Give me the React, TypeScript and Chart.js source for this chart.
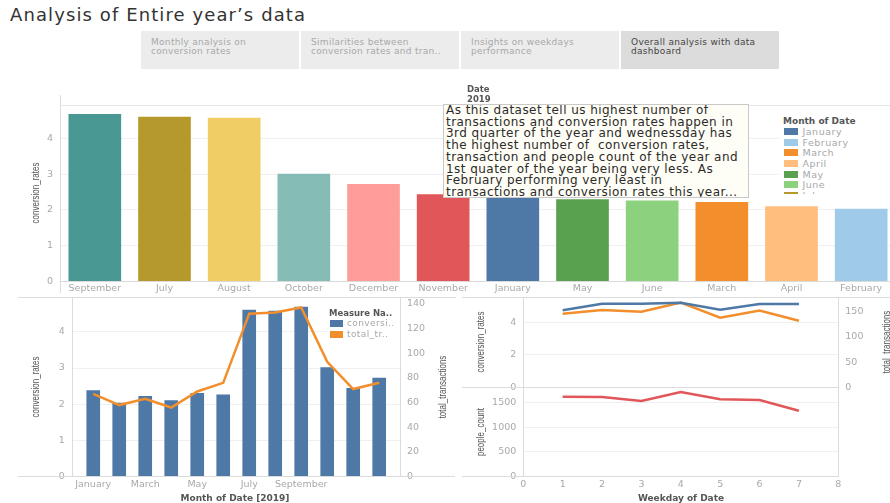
import React, { useEffect, useRef } from "react";
import { Chart, registerables } from "chart.js";

Chart.register(...registerables);

// ---------- data ----------
const months = [
  "January", "February", "March", "April", "May", "June",
  "July", "August", "September", "October", "November", "December",
];
const monthColors = [
  "#4e79a7", "#a0cbe8", "#f28e2b", "#ffbe7d", "#59a14f", "#8cd17d",
  "#b6992d", "#f1ce63", "#499894", "#86bcb6", "#e15759", "#ff9d9a",
];
const monthlyConversion = [2.38, 2.03, 2.22, 2.1, 2.3, 2.26, 4.6, 4.57, 4.68, 3.01, 2.44, 2.72];
const monthlyTransactions = [67, 58, 63, 56, 69, 76, 132, 133, 137, 93, 71, 76];
const monthTickIndices = [0, 2, 4, 6, 8];

const weekdays = [1, 2, 3, 4, 5, 6, 7];
const weekdayConversion = [4.73, 5.14, 5.14, 5.2, 4.77, 5.12, 5.12];
const weekdayTransactions = [146, 153, 150, 168, 138, 152, 132];
const weekdayPeople = [1613, 1607, 1526, 1709, 1561, 1547, 1330];

// tick values
const conversionTicks = [0, 1, 2, 3, 4];
const monthlyTransactionTicks = [0, 20, 40, 60, 80, 100, 120, 140];
const weekdayConversionTicks = [0, 2, 4];
const weekdayTransactionTicks = [0, 50, 100, 150];
const peopleTicks = [0, 500, 1000, 1500];
const weekdayAxisTicks = [0, 1, 2, 3, 4, 5, 6, 7, 8];

const tabs = [
  ["Monthly analysis on", "conversion rates"],
  ["Similarities between", "conversion rates and tran.."],
  ["Insights on weekdays", "performance"],
  ["Overall analysis  with data", "dashboard"],
];
const noteLines = [
  "As this dataset tell us highest number of",
  "transactions and conversion rates happen in",
  "3rd quarter of the year and wednessday has",
  "the highest number of  conversion rates,",
  "transaction and people count of the year and",
  "1st quater of the year being very less. As",
  "February performing very least in",
  "transactions and conversion rates this year...",
];

// ---------- styles ----------
const FONT = "DejaVu Sans";
const TICK_FONT = { family: FONT, size: 9.5 };
const TICK_COLOR = "#a9a9a9";
const GRID_COLOR = "#f0f0f0";
const LINE_COLOR = "#dcdcdc";
const TITLE_FONT = '"Liberation Sans", sans-serif';

function fix(w: number | null, h: number | null) {
  return (s: any) => {
    if (w !== null) s.width = w;
    if (h !== null) s.height = h;
    s.paddingLeft = 0;
    s.paddingRight = 0;
    s.paddingTop = 0;
    s.paddingBottom = 0;
  };
}
function tickSet(values: number[]) {
  return (s: any) => {
    s.ticks = values.map((v) => ({ value: v }));
  };
}
const plainNum = (v: any) => String(v);
const baseOpts = {
  responsive: false,
  animation: false as const,
  devicePixelRatio: 1,
  events: [] as any[],
  plugins: { legend: { display: false }, tooltip: { enabled: false } },
};
const gridNoZero = {
  drawTicks: false,
  color: (c: any) => (c.tick && c.tick.value === 0 ? "rgba(0,0,0,0)" : GRID_COLOR),
};

function ChartBox({ left, top, width, height, make }: any) {
  const ref = useRef<HTMLCanvasElement | null>(null);
  useEffect(() => {
    const chart = new Chart(ref.current as HTMLCanvasElement, make());
    return () => chart.destroy();
  }, []);
  return (
    <canvas
      ref={ref}
      width={width}
      height={height}
      style={{ position: "absolute", left, top, width, height }}
    />
  );
}

// ---------- chart configs ----------
function topBarConfig(): any {
  const order = months.map((_, i) => i).sort((a, b) => monthlyConversion[b] - monthlyConversion[a]);
  return {
    type: "bar",
    data: {
      labels: order.map((i) => months[i]),
      datasets: [
        {
          data: order.map((i) => monthlyConversion[i]),
          backgroundColor: order.map((i) => monthColors[i]),
          barPercentage: 0.756,
          categoryPercentage: 1,
        },
      ],
    },
    options: {
      ...baseOpts,
      layout: { padding: { top: 17.7, right: 4, left: 0, bottom: 0 } },
      scales: {
        x: {
          afterFit: fix(null, 18.5),
          grid: { display: false, drawTicks: false },
          border: { display: false },
          ticks: { font: TICK_FONT, color: TICK_COLOR, padding: 1, autoSkip: false, maxRotation: 0 },
        },
        y: {
          min: 0,
          max: 4.91,
          afterFit: fix(60, null),
          afterBuildTicks: tickSet(conversionTicks),
          border: { display: false },
          grid: {
            drawTicks: false,
            color: (c: any) => (c.tick && c.tick.value === 0 ? "#dadada" : GRID_COLOR),
          },
          ticks: { font: TICK_FONT, color: TICK_COLOR, padding: 7, callback: plainNum },
        },
      },
    },
  };
}

function monthlyComboConfig(): any {
  return {
    type: "bar",
    data: {
      datasets: [
        {
          type: "line",
          yAxisID: "y1",
          data: monthlyTransactions.map((v, i) => ({ x: i, y: v })),
          borderColor: "#f28e2b",
          borderWidth: 2.5,
          pointRadius: 0,
          tension: 0,
          order: 1,
        },
        {
          type: "bar",
          yAxisID: "y",
          data: monthlyConversion.map((v, i) => ({ x: i, y: v })),
          backgroundColor: "#4e79a7",
          barThickness: 13,
          order: 2,
        },
      ],
    },
    options: {
      ...baseOpts,
      layout: { padding: { top: 7, right: 0, left: 0, bottom: 0 } },
      scales: {
        x: {
          type: "linear",
          min: -0.79,
          max: 11.8,
          offset: false,
          afterFit: fix(null, 26.3),
          afterBuildTicks: tickSet(monthTickIndices),
          grid: { display: false, offset: false, drawTicks: false },
          border: { display: false },
          ticks: {
            font: TICK_FONT,
            color: TICK_COLOR,
            padding: 2.6,
            autoSkip: false,
            maxRotation: 0,
            callback: (v: any) => months[v],
          },
        },
        y: {
          position: "left",
          min: 0,
          max: 4.96,
          afterFit: fix(52.7, null),
          afterBuildTicks: tickSet(conversionTicks),
          border: { display: false },
          grid: gridNoZero,
          ticks: { font: TICK_FONT, color: TICK_COLOR, padding: 8, callback: plainNum },
        },
        y1: {
          position: "right",
          min: 0,
          max: 145.5,
          afterFit: fix(50, null),
          afterBuildTicks: tickSet(monthlyTransactionTicks),
          border: { display: false },
          grid: { display: false, drawTicks: false },
          ticks: { font: TICK_FONT, color: TICK_COLOR, padding: 7, callback: plainNum },
        },
      },
    },
  };
}

function weekdayTopConfig(): any {
  return {
    type: "line",
    data: {
      datasets: [
        {
          yAxisID: "y",
          data: weekdays.map((d, i) => ({ x: d, y: weekdayConversion[i] })),
          borderColor: "#4e79a7",
          borderWidth: 2.5,
          pointRadius: 0,
          tension: 0,
        },
        {
          yAxisID: "y1",
          data: weekdays.map((d, i) => ({ x: d, y: weekdayTransactions[i] })),
          borderColor: "#f28e2b",
          borderWidth: 2.5,
          pointRadius: 0,
          tension: 0,
        },
      ],
    },
    options: {
      ...baseOpts,
      layout: { padding: { top: 7, right: 0, left: 0, bottom: 2.7 } },
      scales: {
        x: { type: "linear", min: 0, max: 8, display: false },
        y: {
          position: "left",
          min: 0,
          max: 5.55,
          afterFit: fix(33.3, null),
          afterBuildTicks: tickSet(weekdayConversionTicks),
          border: { display: false },
          grid: gridNoZero,
          ticks: { font: TICK_FONT, color: TICK_COLOR, padding: 7, callback: plainNum },
        },
        y1: {
          position: "right",
          min: 0,
          max: 179,
          afterFit: fix(51.7, null),
          afterBuildTicks: tickSet(weekdayTransactionTicks),
          border: { display: false },
          grid: { display: false, drawTicks: false },
          ticks: { font: TICK_FONT, color: TICK_COLOR, padding: 7, callback: plainNum },
        },
      },
    },
  };
}

function weekdayBottomConfig(): any {
  return {
    type: "line",
    data: {
      datasets: [
        {
          data: weekdays.map((d, i) => ({ x: d, y: weekdayPeople[i] })),
          borderColor: "#e15759",
          borderWidth: 2.5,
          pointRadius: 0,
          tension: 0,
        },
      ],
    },
    options: {
      ...baseOpts,
      layout: { padding: { top: 7.3, right: 51.7, left: 0, bottom: 0 } },
      scales: {
        x: {
          type: "linear",
          min: 0,
          max: 8,
          afterFit: fix(null, 26.3),
          afterBuildTicks: tickSet(weekdayAxisTicks),
          grid: { display: false, drawTicks: false },
          border: { display: false },
          ticks: { font: TICK_FONT, color: TICK_COLOR, padding: 2.6, autoSkip: false, maxRotation: 0, callback: plainNum },
        },
        y: {
          min: 0,
          max: 1804,
          afterFit: fix(53.3, null),
          afterBuildTicks: tickSet(peopleTicks),
          border: { display: false },
          grid: gridNoZero,
          ticks: { font: TICK_FONT, color: TICK_COLOR, padding: 7, callback: plainNum },
        },
      },
    },
  };
}

// ---------- small HTML helpers ----------
function HLine({ x1, x2, y, color = LINE_COLOR }: any) {
  return <div style={{ position: "absolute", left: x1, top: y, width: x2 - x1, height: 1, background: color }} />;
}
function VLine({ x, y1, y2, color = LINE_COLOR }: any) {
  return <div style={{ position: "absolute", left: x, top: y1, width: 1, height: y2 - y1, background: color }} />;
}
function VTitle({ cx, cy, text }: any) {
  return (
    <div
      style={{
        position: "absolute",
        left: cx,
        top: cy,
        transform: "translate(-50%, -50%) rotate(-90deg) scale(0.8, 1)",
        whiteSpace: "nowrap",
        fontFamily: TITLE_FONT,
        fontSize: 10,
        lineHeight: "11px",
        color: "#555",
      }}
    >
      {text}
    </div>
  );
}
function HTitle({ cx, cy, text }: any) {
  return (
    <div
      style={{
        position: "absolute",
        left: cx,
        top: cy,
        transform: "translate(-50%, -50%)",
        whiteSpace: "nowrap",
        fontFamily: FONT,
        fontWeight: "bold",
        fontSize: 9,
        lineHeight: "11px",
        color: "#555",
      }}
    >
      {text}
    </div>
  );
}

export default function App() {
  const legendMonths = months.slice(0, 7);
  return (
    <div
      style={{
        position: "absolute",
        left: 0,
        top: 0,
        width: 890,
        height: 503,
        overflow: "hidden",
        background: "#fff",
        fontFamily: FONT,
      }}
    >
      {/* title */}
      <div
        style={{
          position: "absolute",
          left: 10,
          top: 6,
          fontSize: 18,
          lineHeight: "18px",
          letterSpacing: 1.1,
          color: "#333",
          whiteSpace: "nowrap",
        }}
      >
        Analysis of Entire year’s data
      </div>

      {/* tabs */}
      {tabs.map((t, i) => {
        const lefts = [141, 301, 461, 621];
        const active = i === 3;
        return (
          <div
            key={i}
            style={{
              position: "absolute",
              left: lefts[i],
              top: 31,
              width: 157.5,
              height: 38,
              boxSizing: "border-box",
              padding: "6.5px 0 0 10px",
              background: active ? "#dcdcdc" : "#ececec",
              color: active ? "#444" : "#a8a8a8",
              fontSize: 9,
              letterSpacing: 0.3,
              lineHeight: "9.5px",
              whiteSpace: "nowrap",
            }}
          >
            <div>{t[0]}</div>
            <div>{t[1]}</div>
          </div>
        );
      })}

      {/* top chart */}
      <ChartBox left={0} top={88} width={900} height={212} make={topBarConfig} />
      <VLine x={60} y1={95} y2={293} />
      <HLine x1={60} x2={890} y={105} color="#e6e6e6" />
      <VTitle cx={34.5} cy={193} text="conversion_rates" />

      {/* Date header */}
      <div
        style={{
          position: "absolute",
          left: 467,
          top: 85,
          fontSize: 8.5,
          fontWeight: "bold",
          lineHeight: "9.5px",
          color: "#555",
        }}
      >
        <div>Date</div>
        <div>2019</div>
      </div>

      {/* legend top */}
      <div
        style={{
          position: "absolute",
          left: 779,
          top: 110,
          width: 111,
          height: 84,
          background: "#fff",
          overflow: "hidden",
        }}
      >
        <div
          style={{
            position: "absolute",
            left: 4,
            top: 5.5,
            fontSize: 9,
            fontWeight: "bold",
            lineHeight: "11px",
            color: "#555",
            whiteSpace: "nowrap",
          }}
        >
          Month of Date
        </div>
        {legendMonths.map((m, i) => (
          <div key={m} style={{ position: "absolute", left: 5, top: 16.2 + i * 10.6, height: 11 }}>
            <div style={{ position: "absolute", left: 0, top: 2, width: 13.5, height: 7, background: monthColors[i] }} />
            <div
              style={{
                position: "absolute",
                left: 18.5,
                top: 0,
                fontSize: 9.5,
                letterSpacing: 0.5,
                lineHeight: "11px",
                color: "#a8a8a8",
                whiteSpace: "nowrap",
              }}
            >
              {m}
            </div>
          </div>
        ))}
      </div>

      {/* annotation box */}
      <div
        style={{
          position: "absolute",
          left: 443,
          top: 104,
          width: 306,
          height: 94,
          boxSizing: "border-box",
          border: "1px solid #c9c9c9",
          background: "#fffef6",
          overflow: "hidden",
        }}
      >
        <div
          style={{
            position: "absolute",
            left: 2,
            top: 0,
            fontSize: 12,
            letterSpacing: 0.45,
            lineHeight: "11.7px",
            color: "#2b2b2b",
            whiteSpace: "pre",
          }}
        >
          {noteLines.map((l, i) => (
            <div key={i}>{l}</div>
          ))}
        </div>
      </div>

      {/* separators */}
      <HLine x1={18} x2={456} y={297} />
      <HLine x1={462} x2={890} y={297} />

      {/* bottom-left combo chart */}
      <ChartBox left={20} top={290} width={430} height={213} make={monthlyComboConfig} />
      <VLine x={72} y1={297} y2={477} />
      <VLine x={400} y1={297} y2={477} />
      <HLine x1={18} x2={455} y={476} />
      <VTitle cx={34.5} cy={387} text="conversion_rates" />
      <VTitle cx={441.5} cy={387} text="total_transactions" />
      <HTitle cx={235} cy={498} text="Month of Date [2019]" />
      <div
        style={{
          position: "absolute",
          left: 327,
          top: 307,
          width: 72,
          height: 32,
          background: "#fff",
        }}
      >
        <div
          style={{
            position: "absolute",
            left: 2,
            top: 1,
            fontSize: 8.5,
            fontWeight: "bold",
            lineHeight: "10px",
            color: "#555",
            whiteSpace: "nowrap",
          }}
        >
          Measure Na..
        </div>
        <div style={{ position: "absolute", left: 3, top: 13, width: 13, height: 7, background: "#4e79a7" }} />
        <div style={{ position: "absolute", left: 20, top: 11, fontSize: 9, letterSpacing: 0.4, lineHeight: "11px", color: "#a8a8a8", whiteSpace: "nowrap" }}>
          conversi..
        </div>
        <div style={{ position: "absolute", left: 3, top: 24, width: 13, height: 7, background: "#f28e2b" }} />
        <div style={{ position: "absolute", left: 20, top: 22, fontSize: 9, letterSpacing: 0.4, lineHeight: "11px", color: "#a8a8a8", whiteSpace: "nowrap" }}>
          total_tr..
        </div>
      </div>

      {/* bottom-right weekday panes */}
      <ChartBox left={490} top={290} width={400} height={100} make={weekdayTopConfig} />
      <ChartBox left={470} top={380} width={420} height={123} make={weekdayBottomConfig} />
      <VLine x={523} y1={297} y2={477} />
      <VLine x={838} y1={297} y2={477} />
      <HLine x1={462} x2={838} y={387} />
      <HLine x1={462} x2={838} y={476} />
      <VTitle cx={479.5} cy={342} text="conversion_rates" />
      <VTitle cx={479.5} cy={432} text="people_count" />
      <VTitle cx={885.5} cy={342} text="total_transactions" />
      <HTitle cx={681} cy={498} text="Weekday of Date" />
    </div>
  );
}
